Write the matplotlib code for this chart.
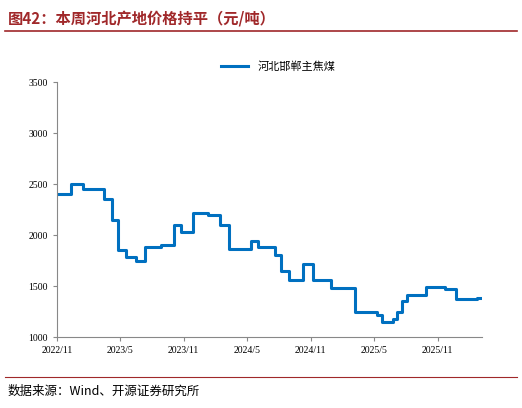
import matplotlib
matplotlib.use("Agg")
import matplotlib.pyplot as plt
import pandas as pd

plt.rcParams['font.family'] = ['Noto Sans CJK SC', 'DejaVu Sans']

change_dates = ["2022-11-01","2022-12-13","2023-01-15","2023-03-17","2023-04-09","2023-04-27",
    "2023-05-20","2023-06-18","2023-07-13","2023-08-29","2023-10-03","2023-10-23","2023-11-27",
    "2024-01-09","2024-02-13","2024-03-09","2024-05-14","2024-06-01","2024-07-22","2024-08-06",
    "2024-08-29","2024-10-08","2024-11-07","2024-12-28","2025-03-09","2025-05-11","2025-05-25",
    "2025-06-26","2025-07-08","2025-07-22","2025-08-06","2025-09-27","2025-11-21","2025-12-25",
    "2026-02-21","2026-03-06"]
prices = [2400,2500,2450,2350,2150,1850,1780,1750,1880,1900,2100,2030,2220,2200,2100,1860,1940,
    1880,1800,1650,1560,1720,1560,1480,1250,1220,1150,1180,1250,1350,1410,1490,1470,1370,1380,1380]
xtick_labels = ["2022/11","2023/5","2023/11","2024/5","2024/11","2025/5","2025/11"]
yticks = [1000,1500,2000,2500,3000,3500]
series_name = "河北邯郸主焦煤"

dates = pd.to_datetime(change_dates)
fig = plt.figure(figsize=(5.22,4.08), dpi=100)
ax = fig.add_axes([0.109,0.174,0.814,0.625])
ax.step(dates, prices, where='post', color='#0070C0', lw=2.2, label=series_name)
ax.set_ylim(1000,3500)
ax.set_yticks(yticks)
ax.set_xlim(pd.Timestamp("2022-11-01"), pd.Timestamp("2026-03-08"))
ax.set_xticks(pd.to_datetime([l.replace('/','-')+'-01' for l in xtick_labels]))
ax.set_xticklabels(xtick_labels)
ax.tick_params(labelsize=7, length=3, color='#888888')
for l in ax.get_xticklabels()+ax.get_yticklabels():
    l.set_family('Liberation Serif')
for s in ['top','right']:
    ax.spines[s].set_visible(False)
for s in ['left','bottom']:
    ax.spines[s].set_color('#888888')
ax.legend(loc='lower center', bbox_to_anchor=(0.52,1.0), frameon=False, fontsize=8, handlelength=2.5)

fig.text(0.015,0.955,"图42：本周河北产地价格持平（元/吨）", fontsize=11, fontweight='bold', color='#A0282A', va='center')
fig.add_artist(plt.Line2D([0.01,0.99],[0.925,0.925], color='#A0282A', lw=1.2))
fig.add_artist(plt.Line2D([0.01,0.99],[0.075,0.075], color='#A0282A', lw=0.8))
fig.text(0.015,0.04,"数据来源：Wind、开源证券研究所", fontsize=9, va='center')
fig.savefig("out.png", dpi=100)
